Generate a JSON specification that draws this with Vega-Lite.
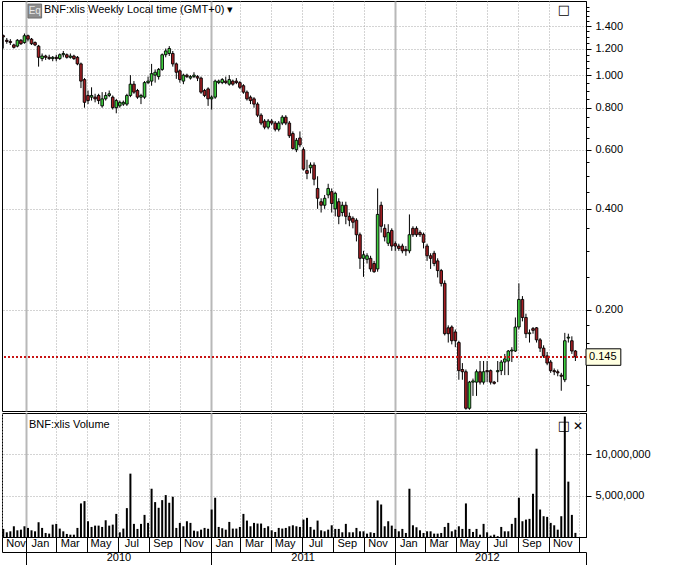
{
"$schema": "https://vega.github.io/schema/vega-lite/v6.json",
"padding": 0,
"background": "white",
"spacing": 0,
"config": {
  "view": {"stroke": "black", "strokeWidth": 1},
  "font": "Liberation Sans",
  "axis": {"labelFont": "Liberation Sans", "labelFontSize": 11, "labelColor": "black", "tickColor": "black", "domainColor": "black", "title": null, "labelFlush": false, "labelOverlap": false},
  "title": {"font": "Liberation Sans", "fontSize": 11, "fontWeight": "normal", "color": "black", "anchor": "start", "frame": "group"}
},
"datasets": {"w": [
{"d":"2009-11-16","o":1.31,"h":1.32,"l":1.20,"c":1.30,"v":980000},
{"d":"2009-11-23","o":1.27,"h":1.29,"l":1.24,"c":1.26,"v":570000},
{"d":"2009-11-30","o":1.26,"h":1.28,"l":1.23,"c":1.25,"v":690000},
{"d":"2009-12-07","o":1.23,"h":1.24,"l":1.20,"c":1.21,"v":1300000},
{"d":"2009-12-14","o":1.22,"h":1.28,"l":1.21,"c":1.27,"v":810000},
{"d":"2009-12-21","o":1.27,"h":1.28,"l":1.23,"c":1.24,"v":890000},
{"d":"2009-12-28","o":1.25,"h":1.33,"l":1.24,"c":1.31,"v":1300000},
{"d":"2010-01-04","o":1.31,"h":1.32,"l":1.26,"c":1.28,"v":1100000},
{"d":"2010-01-11","o":1.28,"h":1.29,"l":1.23,"c":1.24,"v":810000},
{"d":"2010-01-18","o":1.25,"h":1.26,"l":1.22,"c":1.23,"v":690000},
{"d":"2010-01-25","o":1.22,"h":1.23,"l":1.06,"c":1.13,"v":1790000},
{"d":"2010-02-01","o":1.12,"h":1.16,"l":1.10,"c":1.14,"v":1100000},
{"d":"2010-02-08","o":1.14,"h":1.15,"l":1.11,"c":1.13,"v":490000},
{"d":"2010-02-15","o":1.13,"h":1.15,"l":1.11,"c":1.12,"v":410000},
{"d":"2010-02-22","o":1.12,"h":1.14,"l":1.10,"c":1.13,"v":1500000},
{"d":"2010-03-01","o":1.13,"h":1.15,"l":1.10,"c":1.12,"v":1590000},
{"d":"2010-03-08","o":1.12,"h":1.16,"l":1.11,"c":1.15,"v":1020000},
{"d":"2010-03-15","o":1.15,"h":1.18,"l":1.13,"c":1.16,"v":690000},
{"d":"2010-03-22","o":1.15,"h":1.16,"l":1.12,"c":1.13,"v":370000},
{"d":"2010-03-29","o":1.13,"h":1.16,"l":1.12,"c":1.14,"v":280000},
{"d":"2010-04-05","o":1.14,"h":1.15,"l":1.11,"c":1.12,"v":280000},
{"d":"2010-04-12","o":1.13,"h":1.14,"l":1.07,"c":1.08,"v":1100000},
{"d":"2010-04-19","o":1.08,"h":1.09,"l":0.915,"c":0.96,"v":4070000},
{"d":"2010-04-26","o":0.97,"h":0.98,"l":0.80,"c":0.83,"v":4350000},
{"d":"2010-05-03","o":0.87,"h":0.90,"l":0.82,"c":0.84,"v":1910000},
{"d":"2010-05-10","o":0.86,"h":0.92,"l":0.84,"c":0.87,"v":1220000},
{"d":"2010-05-17","o":0.86,"h":0.88,"l":0.83,"c":0.85,"v":1380000},
{"d":"2010-05-24","o":0.87,"h":0.88,"l":0.82,"c":0.84,"v":1380000},
{"d":"2010-05-31","o":0.81,"h":0.89,"l":0.80,"c":0.85,"v":1220000},
{"d":"2010-06-07","o":0.85,"h":0.89,"l":0.84,"c":0.87,"v":2030000},
{"d":"2010-06-14","o":0.87,"h":0.90,"l":0.86,"c":0.88,"v":1380000},
{"d":"2010-06-21","o":0.86,"h":0.87,"l":0.79,"c":0.80,"v":1500000},
{"d":"2010-06-28","o":0.80,"h":0.85,"l":0.77,"c":0.84,"v":2800000},
{"d":"2010-07-05","o":0.81,"h":0.84,"l":0.80,"c":0.83,"v":570000},
{"d":"2010-07-12","o":0.82,"h":0.84,"l":0.81,"c":0.83,"v":1020000},
{"d":"2010-07-19","o":0.82,"h":0.88,"l":0.81,"c":0.87,"v":3500000},
{"d":"2010-07-26","o":0.87,"h":1.00,"l":0.86,"c":0.94,"v":7680000},
{"d":"2010-08-02","o":0.94,"h":0.96,"l":0.88,"c":0.89,"v":1590000},
{"d":"2010-08-09","o":0.90,"h":0.91,"l":0.85,"c":0.86,"v":980000},
{"d":"2010-08-16","o":0.86,"h":0.88,"l":0.82,"c":0.87,"v":1590000},
{"d":"2010-08-23","o":0.86,"h":0.96,"l":0.85,"c":0.95,"v":2680000},
{"d":"2010-08-30","o":0.95,"h":0.99,"l":0.94,"c":0.96,"v":1710000},
{"d":"2010-09-06","o":0.96,"h":1.08,"l":0.93,"c":1.01,"v":5850000},
{"d":"2010-09-13","o":1.00,"h":1.04,"l":0.95,"c":1.02,"v":4230000},
{"d":"2010-09-20","o":0.99,"h":1.05,"l":0.97,"c":1.04,"v":3540000},
{"d":"2010-09-27","o":1.04,"h":1.16,"l":1.03,"c":1.15,"v":4470000},
{"d":"2010-10-04","o":1.15,"h":1.20,"l":1.13,"c":1.18,"v":5080000},
{"d":"2010-10-11","o":1.16,"h":1.22,"l":1.14,"c":1.20,"v":4150000},
{"d":"2010-10-18","o":1.16,"h":1.18,"l":1.06,"c":1.08,"v":4880000},
{"d":"2010-10-25","o":1.08,"h":1.09,"l":0.975,"c":1.02,"v":1100000},
{"d":"2010-11-01","o":1.03,"h":1.04,"l":0.95,"c":0.97,"v":1710000},
{"d":"2010-11-08","o":0.96,"h":1.01,"l":0.94,"c":1.00,"v":1300000},
{"d":"2010-11-15","o":1.00,"h":1.01,"l":0.98,"c":0.99,"v":1910000},
{"d":"2010-11-22","o":0.98,"h":1.00,"l":0.97,"c":0.99,"v":1710000},
{"d":"2010-11-29","o":0.99,"h":1.02,"l":0.98,"c":1.00,"v":770000},
{"d":"2010-12-06","o":0.99,"h":1.00,"l":0.96,"c":0.98,"v":690000},
{"d":"2010-12-13","o":0.98,"h":0.99,"l":0.88,"c":0.89,"v":890000},
{"d":"2010-12-20","o":0.90,"h":0.91,"l":0.86,"c":0.87,"v":1100000},
{"d":"2010-12-27","o":0.91,"h":0.92,"l":0.81,"c":0.85,"v":1000000},
{"d":"2011-01-03","o":0.85,"h":0.87,"l":0.79,"c":0.86,"v":3330000},
{"d":"2011-01-10","o":0.86,"h":0.97,"l":0.85,"c":0.96,"v":4760000},
{"d":"2011-01-17","o":0.95,"h":0.97,"l":0.94,"c":0.96,"v":1220000},
{"d":"2011-01-24","o":0.95,"h":0.98,"l":0.94,"c":0.97,"v":1060000},
{"d":"2011-01-31","o":0.96,"h":0.99,"l":0.94,"c":0.95,"v":890000},
{"d":"2011-02-07","o":0.94,"h":1.00,"l":0.93,"c":0.97,"v":1830000},
{"d":"2011-02-14","o":0.96,"h":0.97,"l":0.93,"c":0.94,"v":1020000},
{"d":"2011-02-21","o":0.96,"h":0.98,"l":0.94,"c":0.95,"v":1020000},
{"d":"2011-02-28","o":0.95,"h":0.96,"l":0.91,"c":0.92,"v":1220000},
{"d":"2011-03-07","o":0.93,"h":0.94,"l":0.88,"c":0.89,"v":2800000},
{"d":"2011-03-14","o":0.89,"h":0.90,"l":0.84,"c":0.85,"v":1990000},
{"d":"2011-03-21","o":0.86,"h":0.87,"l":0.82,"c":0.84,"v":1300000},
{"d":"2011-03-28","o":0.85,"h":0.86,"l":0.80,"c":0.82,"v":1710000},
{"d":"2011-04-04","o":0.82,"h":0.83,"l":0.75,"c":0.76,"v":1630000},
{"d":"2011-04-11","o":0.76,"h":0.77,"l":0.71,"c":0.72,"v":1630000},
{"d":"2011-04-18","o":0.73,"h":0.74,"l":0.69,"c":0.70,"v":1100000},
{"d":"2011-04-25","o":0.70,"h":0.74,"l":0.69,"c":0.73,"v":1300000},
{"d":"2011-05-02","o":0.73,"h":0.74,"l":0.71,"c":0.72,"v":810000},
{"d":"2011-05-09","o":0.72,"h":0.73,"l":0.68,"c":0.69,"v":610000},
{"d":"2011-05-16","o":0.69,"h":0.73,"l":0.68,"c":0.72,"v":1100000},
{"d":"2011-05-23","o":0.72,"h":0.76,"l":0.71,"c":0.75,"v":1020000},
{"d":"2011-05-30","o":0.75,"h":0.76,"l":0.71,"c":0.72,"v":1100000},
{"d":"2011-06-06","o":0.72,"h":0.73,"l":0.65,"c":0.66,"v":1300000},
{"d":"2011-06-13","o":0.67,"h":0.68,"l":0.60,"c":0.605,"v":1420000},
{"d":"2011-06-20","o":0.60,"h":0.65,"l":0.59,"c":0.64,"v":1300000},
{"d":"2011-06-27","o":0.65,"h":0.68,"l":0.61,"c":0.62,"v":1220000},
{"d":"2011-07-04","o":0.60,"h":0.61,"l":0.52,"c":0.525,"v":2110000},
{"d":"2011-07-11","o":0.52,"h":0.56,"l":0.49,"c":0.51,"v":2320000},
{"d":"2011-07-18","o":0.53,"h":0.55,"l":0.51,"c":0.54,"v":1220000},
{"d":"2011-07-25","o":0.54,"h":0.55,"l":0.47,"c":0.49,"v":890000},
{"d":"2011-08-01","o":0.46,"h":0.50,"l":0.40,"c":0.43,"v":1990000},
{"d":"2011-08-08","o":0.42,"h":0.43,"l":0.39,"c":0.41,"v":810000},
{"d":"2011-08-15","o":0.41,"h":0.44,"l":0.40,"c":0.43,"v":690000},
{"d":"2011-08-22","o":0.44,"h":0.475,"l":0.43,"c":0.46,"v":890000},
{"d":"2011-08-29","o":0.45,"h":0.46,"l":0.39,"c":0.415,"v":1420000},
{"d":"2011-09-05","o":0.40,"h":0.45,"l":0.38,"c":0.445,"v":980000},
{"d":"2011-09-12","o":0.42,"h":0.43,"l":0.36,"c":0.38,"v":980000},
{"d":"2011-09-19","o":0.39,"h":0.42,"l":0.38,"c":0.41,"v":570000},
{"d":"2011-09-26","o":0.41,"h":0.42,"l":0.36,"c":0.38,"v":1590000},
{"d":"2011-10-03","o":0.38,"h":0.39,"l":0.355,"c":0.37,"v":570000},
{"d":"2011-10-10","o":0.375,"h":0.38,"l":0.35,"c":0.365,"v":570000},
{"d":"2011-10-17","o":0.37,"h":0.375,"l":0.32,"c":0.335,"v":1100000},
{"d":"2011-10-24","o":0.335,"h":0.34,"l":0.265,"c":0.285,"v":690000},
{"d":"2011-10-31","o":0.285,"h":0.30,"l":0.251,"c":0.292,"v":690000},
{"d":"2011-11-07","o":0.283,"h":0.295,"l":0.275,"c":0.29,"v":410000},
{"d":"2011-11-14","o":0.285,"h":0.29,"l":0.26,"c":0.265,"v":570000},
{"d":"2011-11-21","o":0.275,"h":0.28,"l":0.258,"c":0.26,"v":490000},
{"d":"2011-11-28","o":0.265,"h":0.46,"l":0.26,"c":0.385,"v":4430000},
{"d":"2011-12-05","o":0.41,"h":0.42,"l":0.34,"c":0.355,"v":3940000},
{"d":"2011-12-12","o":0.35,"h":0.36,"l":0.32,"c":0.33,"v":1300000},
{"d":"2011-12-19","o":0.316,"h":0.36,"l":0.31,"c":0.34,"v":1910000},
{"d":"2011-12-26","o":0.345,"h":0.35,"l":0.30,"c":0.31,"v":1380000},
{"d":"2012-01-02","o":0.315,"h":0.32,"l":0.30,"c":0.31,"v":980000},
{"d":"2012-01-09","o":0.31,"h":0.315,"l":0.30,"c":0.305,"v":690000},
{"d":"2012-01-16","o":0.31,"h":0.315,"l":0.295,"c":0.30,"v":980000},
{"d":"2012-01-23","o":0.303,"h":0.31,"l":0.29,"c":0.30,"v":490000},
{"d":"2012-01-30","o":0.30,"h":0.385,"l":0.295,"c":0.335,"v":5850000},
{"d":"2012-02-06","o":0.35,"h":0.355,"l":0.33,"c":0.335,"v":1420000},
{"d":"2012-02-13","o":0.35,"h":0.355,"l":0.33,"c":0.335,"v":1180000},
{"d":"2012-02-20","o":0.34,"h":0.345,"l":0.33,"c":0.335,"v":810000},
{"d":"2012-02-27","o":0.336,"h":0.34,"l":0.305,"c":0.318,"v":490000},
{"d":"2012-03-05","o":0.31,"h":0.315,"l":0.28,"c":0.29,"v":690000},
{"d":"2012-03-12","o":0.29,"h":0.295,"l":0.265,"c":0.285,"v":690000},
{"d":"2012-03-19","o":0.295,"h":0.30,"l":0.27,"c":0.275,"v":410000},
{"d":"2012-03-26","o":0.28,"h":0.285,"l":0.25,"c":0.262,"v":410000},
{"d":"2012-04-02","o":0.262,"h":0.265,"l":0.235,"c":0.24,"v":490000},
{"d":"2012-04-09","o":0.24,"h":0.245,"l":0.168,"c":0.17,"v":1220000},
{"d":"2012-04-16","o":0.177,"h":0.18,"l":0.16,"c":0.17,"v":1710000},
{"d":"2012-04-23","o":0.178,"h":0.18,"l":0.158,"c":0.162,"v":690000},
{"d":"2012-04-30","o":0.172,"h":0.175,"l":0.155,"c":0.162,"v":890000},
{"d":"2012-05-07","o":0.16,"h":0.162,"l":0.124,"c":0.132,"v":1300000},
{"d":"2012-05-14","o":0.133,"h":0.139,"l":0.124,"c":0.131,"v":980000},
{"d":"2012-05-21","o":0.131,"h":0.133,"l":0.101,"c":0.102,"v":4070000},
{"d":"2012-05-28","o":0.102,"h":0.123,"l":0.101,"c":0.122,"v":980000},
{"d":"2012-06-04","o":0.122,"h":0.125,"l":0.111,"c":0.123,"v":610000},
{"d":"2012-06-11","o":0.122,"h":0.133,"l":0.111,"c":0.131,"v":980000},
{"d":"2012-06-18","o":0.131,"h":0.141,"l":0.12,"c":0.122,"v":280000},
{"d":"2012-06-25","o":0.122,"h":0.141,"l":0.12,"c":0.131,"v":1590000},
{"d":"2012-07-02","o":0.132,"h":0.141,"l":0.122,"c":0.131,"v":570000},
{"d":"2012-07-09","o":0.132,"h":0.133,"l":0.12,"c":0.122,"v":160000},
{"d":"2012-07-16","o":0.122,"h":0.123,"l":0.12,"c":0.121,"v":280000},
{"d":"2012-07-23","o":0.131,"h":0.141,"l":0.122,"c":0.132,"v":100000},
{"d":"2012-07-30","o":0.132,"h":0.142,"l":0.128,"c":0.140,"v":1220000},
{"d":"2012-08-06","o":0.140,"h":0.148,"l":0.128,"c":0.143,"v":690000},
{"d":"2012-08-13","o":0.141,"h":0.152,"l":0.128,"c":0.151,"v":690000},
{"d":"2012-08-20","o":0.151,"h":0.155,"l":0.14,"c":0.152,"v":1590000},
{"d":"2012-08-27","o":0.151,"h":0.19,"l":0.15,"c":0.178,"v":2320000},
{"d":"2012-09-03","o":0.178,"h":0.24,"l":0.175,"c":0.215,"v":4760000},
{"d":"2012-09-10","o":0.215,"h":0.22,"l":0.185,"c":0.19,"v":1910000},
{"d":"2012-09-17","o":0.19,"h":0.195,"l":0.165,"c":0.17,"v":2110000},
{"d":"2012-09-24","o":0.17,"h":0.175,"l":0.16,"c":0.171,"v":2200000},
{"d":"2012-10-01","o":0.176,"h":0.178,"l":0.17,"c":0.174,"v":5240000},
{"d":"2012-10-08","o":0.177,"h":0.178,"l":0.16,"c":0.163,"v":10700000},
{"d":"2012-10-15","o":0.163,"h":0.165,"l":0.15,"c":0.154,"v":3330000},
{"d":"2012-10-22","o":0.154,"h":0.157,"l":0.144,"c":0.146,"v":2520000},
{"d":"2012-10-29","o":0.146,"h":0.15,"l":0.137,"c":0.139,"v":2440000},
{"d":"2012-11-05","o":0.14,"h":0.142,"l":0.13,"c":0.132,"v":1710000},
{"d":"2012-11-12","o":0.132,"h":0.134,"l":0.128,"c":0.131,"v":1420000},
{"d":"2012-11-19","o":0.131,"h":0.133,"l":0.127,"c":0.13,"v":890000},
{"d":"2012-11-26","o":0.128,"h":0.13,"l":0.115,"c":0.127,"v":2520000},
{"d":"2012-12-03","o":0.124,"h":0.171,"l":0.122,"c":0.162,"v":14600000},
{"d":"2012-12-10","o":0.165,"h":0.17,"l":0.16,"c":0.166,"v":6710000},
{"d":"2012-12-17","o":0.162,"h":0.167,"l":0.148,"c":0.151,"v":2680000},
{"d":"2012-12-24","o":0.151,"h":0.152,"l":0.141,"c":0.145,"v":500000}
]},
"vconcat": [
{
  "width": 584, "height": 410,
  "title": {"text": "BNF:xlis Weekly Local time (GMT+0)  ▾", "offset": -14, "dx": 42},
  "data": {"name": "w"},
  "resolve": {"axis": {"x": "independent", "y": "independent"}},
  "layer": [
    {
      "mark": {"type": "rule", "color": "black", "strokeWidth": 1, "clip": true},
      "encoding": {
        "x": {"field": "d", "type": "temporal",
          "scale": {"type": "utc", "padding": 0, "domain": [{"year": 2009, "month": 11, "date": 13, "hours": 12, "utc": true}, {"year": 2013, "month": 1, "date": 14, "utc": true}]},
          "axis": {"orient": "bottom", "labels": false, "ticks": false, "domain": false, "grid": true, "gridColor": "#a8a8a8", "gridDash": [1, 2], "minExtent": 0, "maxExtent": 0,
            "values": [
              {"year": 2010, "month": 3, "date": 1, "utc": true}, {"year": 2010, "month": 5, "date": 1, "utc": true}, {"year": 2010, "month": 7, "date": 1, "utc": true}, {"year": 2010, "month": 9, "date": 1, "utc": true}, {"year": 2010, "month": 11, "date": 1, "utc": true},
              {"year": 2011, "month": 3, "date": 1, "utc": true}, {"year": 2011, "month": 5, "date": 1, "utc": true}, {"year": 2011, "month": 7, "date": 1, "utc": true}, {"year": 2011, "month": 9, "date": 1, "utc": true}, {"year": 2011, "month": 11, "date": 1, "utc": true},
              {"year": 2012, "month": 3, "date": 1, "utc": true}, {"year": 2012, "month": 5, "date": 1, "utc": true}, {"year": 2012, "month": 7, "date": 1, "utc": true}, {"year": 2012, "month": 9, "date": 1, "utc": true}, {"year": 2012, "month": 11, "date": 1, "utc": true}
            ]}},
        "y": {"field": "l", "type": "quantitative",
          "scale": {"type": "log", "domain": [0.1001, 1.662], "nice": false},
          "axis": {"orient": "right", "values": [0.2, 0.4, 0.6, 0.8, 1, 1.2, 1.4], "format": ".3f", "tickSize": 5, "labelPadding": 4, "grid": true, "gridColor": "#a8a8a8", "gridDash": [1, 2]}},
        "y2": {"field": "h"}
      }
    },
    {
      "mark": {"type": "bar", "size": 2.6, "stroke": "black", "strokeWidth": 0.9, "clip": true},
      "encoding": {
        "x": {"field": "d", "type": "temporal",
          "axis": {"orient": "bottom", "labels": false, "ticks": false, "domain": false, "grid": true, "gridColor": "#b8b8b8", "gridWidth": 2, "minExtent": 0, "maxExtent": 0,
            "values": [{"year": 2010, "month": 1, "date": 1, "utc": true}, {"year": 2011, "month": 1, "date": 1, "utc": true}, {"year": 2012, "month": 1, "date": 1, "utc": true}]}},
        "y": {"field": "o", "type": "quantitative",
          "axis": {"orient": "right", "labels": false, "domain": false, "grid": false, "tickSize": 3,
            "values": [0.12, 0.14, 0.16, 0.18, 0.25, 0.3, 0.35, 0.45, 0.5, 0.55, 0.65, 0.7, 0.75, 0.85, 0.9, 0.95, 1.05, 1.1, 1.15, 1.25, 1.3, 1.35, 1.45, 1.5, 1.55, 1.6]}},
        "y2": {"field": "c"},
        "color": {"condition": {"test": "datum.c >= datum.o", "value": "#3fcf3f"}, "value": "#a31f24"}
      }
    },
    {
      "data": {"values": [{}]},
      "mark": {"type": "rule", "color": "#c81414", "strokeWidth": 2, "strokeDash": [2, 2]},
      "encoding": {
        "y": {"datum": 0.145, "type": "quantitative", "axis": {"orient": "right", "offset": 89, "labels": false, "ticks": false, "grid": false, "domain": true}}
      }
    },
    {
      "data": {"values": [{}]},
      "mark": {"type": "rect", "fill": "#ffffe1", "stroke": "black", "strokeWidth": 1, "clip": false},
      "encoding": {
        "x": {"datum": {"year": 2013, "month": 1, "date": 14, "utc": true}, "type": "temporal", "axis": null},
        "x2": {"datum": {"year": 2013, "month": 3, "date": 24, "utc": true}},
        "y": {"datum": 0.1369, "type": "quantitative", "axis": null},
        "y2": {"datum": 0.1533}
      }
    },
    {
      "data": {"values": [{}]},
      "mark": {"type": "text", "text": "0.145", "align": "left", "baseline": "middle", "fontSize": 11, "font": "Liberation Sans", "color": "black", "clip": false},
      "encoding": {
        "x": {"datum": {"year": 2013, "month": 1, "date": 20, "utc": true}, "type": "temporal", "axis": null},
        "y": {"datum": 0.145, "type": "quantitative", "axis": null}
      }
    },
    {
      "data": {"values": [{}]},
      "mark": {"type": "rect", "fill": "#8e8e8e", "stroke": "#6e6e6e", "strokeWidth": 1},
      "encoding": {
        "x": {"datum": {"year": 2010, "month": 1, "date": 4, "utc": true}, "type": "temporal", "axis": null},
        "x2": {"datum": {"year": 2010, "month": 1, "date": 31, "utc": true}},
        "y": {"datum": 1.479, "type": "quantitative", "axis": null},
        "y2": {"datum": 1.627}
      }
    },
    {
      "data": {"values": [{}]},
      "mark": {"type": "text", "text": "Eq", "align": "center", "baseline": "middle", "fontSize": 10, "font": "Liberation Sans", "color": "#e8e8e8"},
      "encoding": {
        "x": {"datum": {"year": 2010, "month": 1, "date": 17, "hours": 12, "utc": true}, "type": "temporal", "axis": null},
        "y": {"datum": 1.55, "type": "quantitative", "axis": null}
      }
    },
    {
      "data": {"values": [{}]},
      "mark": {"type": "text", "text": "□", "align": "center", "baseline": "middle", "fontSize": 13, "font": "DejaVu Sans", "color": "black"},
      "encoding": {
        "x": {"datum": {"year": 2012, "month": 12, "date": 1, "utc": true}, "type": "temporal", "axis": null},
        "y": {"datum": 1.562, "type": "quantitative", "axis": null}
      }
    }
  ]
},
{
  "width": 584, "height": 124,
  "title": {"text": "BNF:xlis Volume", "offset": -17, "dx": 27},
  "data": {"name": "w"},
  "resolve": {"axis": {"x": "independent", "y": "independent"}},
  "layer": [
    {
      "mark": {"type": "bar", "size": 2, "color": "black", "clip": true},
      "encoding": {
        "x": {"field": "d", "type": "temporal",
          "scale": {"type": "utc", "padding": 0, "domain": [{"year": 2009, "month": 11, "date": 13, "hours": 12, "utc": true}, {"year": 2013, "month": 1, "date": 14, "utc": true}]},
          "axis": {"orient": "bottom", "tickSize": 15, "labelPadding": -15, "labelOffset": 13.5, "labelAlign": "center", "labelBaseline": "top",
            "labelExpr": "utcyear(datum.value) > 2012 ? '' : utcFormat(datum.value, '%b')",
            "grid": true, "gridColor": "#a8a8a8", "gridDash": [1, 2], "domain": true,
            "values": [
              {"year": 2009, "month": 11, "date": 13, "hours": 12, "utc": true},
              {"year": 2010, "month": 1, "date": 1, "utc": true}, {"year": 2010, "month": 3, "date": 1, "utc": true}, {"year": 2010, "month": 5, "date": 1, "utc": true}, {"year": 2010, "month": 7, "date": 1, "utc": true}, {"year": 2010, "month": 9, "date": 1, "utc": true}, {"year": 2010, "month": 11, "date": 1, "utc": true},
              {"year": 2011, "month": 1, "date": 1, "utc": true}, {"year": 2011, "month": 3, "date": 1, "utc": true}, {"year": 2011, "month": 5, "date": 1, "utc": true}, {"year": 2011, "month": 7, "date": 1, "utc": true}, {"year": 2011, "month": 9, "date": 1, "utc": true}, {"year": 2011, "month": 11, "date": 1, "utc": true},
              {"year": 2012, "month": 1, "date": 1, "utc": true}, {"year": 2012, "month": 3, "date": 1, "utc": true}, {"year": 2012, "month": 5, "date": 1, "utc": true}, {"year": 2012, "month": 7, "date": 1, "utc": true}, {"year": 2012, "month": 9, "date": 1, "utc": true}, {"year": 2012, "month": 11, "date": 1, "utc": true},
              {"year": 2013, "month": 1, "date": 1, "utc": true}
            ]}},
        "y": {"field": "v", "type": "quantitative",
          "scale": {"domain": [0, 15030000], "nice": false},
          "axis": {"orient": "right", "values": [5000000, 10000000], "format": ",d", "tickSize": 5, "labelPadding": 4, "grid": true, "gridColor": "#a8a8a8", "gridDash": [1, 2]}}
      }
    },
    {
      "mark": {"type": "point", "opacity": 0, "size": 0, "filled": true, "strokeWidth": 0, "clip": true},
      "encoding": {
        "x": {"field": "d", "type": "temporal",
          "axis": {"orient": "bottom", "labels": false, "ticks": false, "domain": false, "grid": true, "gridColor": "#b8b8b8", "gridWidth": 2, "minExtent": 0, "maxExtent": 0,
            "values": [{"year": 2010, "month": 1, "date": 1, "utc": true}, {"year": 2011, "month": 1, "date": 1, "utc": true}, {"year": 2012, "month": 1, "date": 1, "utc": true}]}},
        "y": {"field": "v", "type": "quantitative", "axis": {"orient": "right", "offset": 89, "labels": false, "ticks": false, "grid": false, "domain": true}}
      }
    },
    {
      "mark": {"type": "point", "opacity": 0, "size": 0, "filled": true, "strokeWidth": 0, "clip": true},
      "encoding": {
        "x": {"field": "d", "type": "temporal",
          "axis": {"orient": "bottom", "offset": 15, "tickSize": 14, "labelPadding": -15, "labelOffset": 92, "labelAlign": "center", "labelBaseline": "top", "grid": false, "domain": true,
            "labelExpr": "utcyear(datum.value) > 2012 ? '' : utcFormat(datum.value, '%Y')",
            "values": [{"year": 2010, "month": 1, "date": 1, "utc": true}, {"year": 2011, "month": 1, "date": 1, "utc": true}, {"year": 2012, "month": 1, "date": 1, "utc": true}, {"year": 2013, "month": 1, "date": 14, "utc": true}]}},
        "y": {"field": "v", "type": "quantitative", "axis": null}
      }
    },
    {
      "data": {"values": [{}]},
      "mark": {"type": "text", "text": "□", "align": "center", "baseline": "middle", "fontSize": 13, "font": "DejaVu Sans", "color": "black"},
      "encoding": {
        "x": {"datum": {"year": 2012, "month": 12, "date": 1, "utc": true}, "type": "temporal", "axis": null},
        "y": {"datum": 13450000, "type": "quantitative", "axis": null}
      }
    },
    {
      "data": {"values": [{}]},
      "mark": {"type": "text", "text": "✕", "align": "center", "baseline": "middle", "fontSize": 12, "fontWeight": "bold", "font": "DejaVu Sans", "color": "black"},
      "encoding": {
        "x": {"datum": {"year": 2012, "month": 12, "date": 29, "utc": true}, "type": "temporal", "axis": null},
        "y": {"datum": 13450000, "type": "quantitative", "axis": null}
      }
    }
  ]
}
]
}
